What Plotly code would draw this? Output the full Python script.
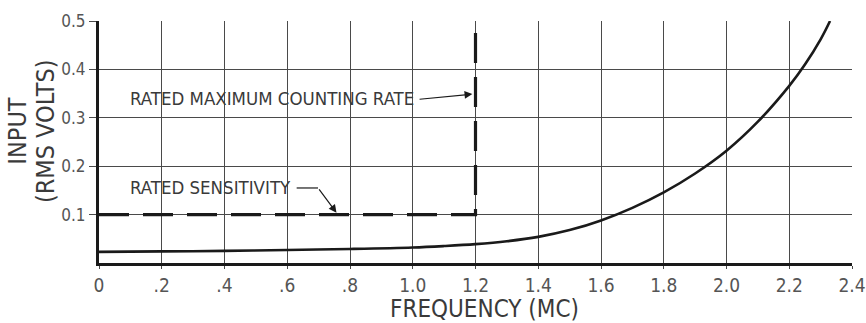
import plotly.graph_objects as go

freq = [0, 0.2, 0.4, 0.6, 0.8, 1.0, 1.1, 1.2, 1.3, 1.4, 1.5, 1.6, 1.7, 1.8, 1.9, 2.0, 2.1, 2.2, 2.25, 2.3, 2.33]
input_v = [0.023, 0.024, 0.025, 0.027, 0.029, 0.032, 0.035, 0.039, 0.045, 0.054, 0.068, 0.088, 0.114, 0.146, 0.185, 0.232, 0.292, 0.366, 0.41, 0.462, 0.5]

rated_x = [0, 1.2, 1.2]
rated_y = [0.1, 0.1, 0.5]

x_ticks = [0, 0.2, 0.4, 0.6, 0.8, 1.0, 1.2, 1.4, 1.6, 1.8, 2.0, 2.2, 2.4]
x_labels = ["0", ".2", ".4", ".6", ".8", "1.0", "1.2", "1.4", "1.6", "1.8", "2.0", "2.2", "2.4"]
y_ticks = [0.1, 0.2, 0.3, 0.4, 0.5]
y_labels = ["0.1", "0.2", "0.3", "0.4", "0.5"]

FONT = "DejaVu Sans Condensed, Liberation Sans Narrow, sans-serif"
INK = "#1a1a1a"
TXT = "#3a3a3a"

fig = go.Figure()
fig.add_trace(go.Scatter(x=rated_x, y=rated_y, mode="lines",
                         line=dict(color=INK, width=3.2, dash="30px,14px"),
                         hoverinfo="skip", showlegend=False))
fig.add_trace(go.Scatter(x=freq, y=input_v, mode="lines", line_shape="spline",
                         line=dict(color=INK, width=2.6), showlegend=False))

# leader line for rated sensitivity
fig.add_shape(type="line", x0=0.63, y0=0.155, x1=0.698, y1=0.155,
              line=dict(color=INK, width=1.2))

fig.add_annotation(x=0.092, y=0.155, text="RATED SENSITIVITY", showarrow=False,
                   xanchor="left", yanchor="middle",
                   font=dict(family=FONT, size=18.5, color=TXT))
fig.add_annotation(x=0.757, y=0.104, ax=0.698, ay=0.155, axref="x", ayref="y",
                   text="", showarrow=True, arrowhead=2, arrowsize=1.3, arrowwidth=1.2,
                   arrowcolor=INK)
fig.add_annotation(x=0.092, y=0.34, text="RATED MAXIMUM COUNTING RATE", showarrow=False,
                   xanchor="left", yanchor="middle",
                   font=dict(family=FONT, size=18.5, color=TXT))
fig.add_annotation(x=1.19, y=0.349, ax=1.017, ay=0.338, axref="x", ayref="y",
                   text="", showarrow=True, arrowhead=2, arrowsize=1.3, arrowwidth=1.2,
                   arrowcolor=INK)

# axis titles
fig.add_annotation(xref="paper", yref="paper", x=-0.1082, y=0.545, text="INPUT",
                   textangle=-90, showarrow=False, xanchor="center", yanchor="middle",
                   font=dict(family=FONT, size=25, color=TXT))
fig.add_annotation(xref="paper", yref="paper", x=-0.0717, y=0.545, text="(RMS VOLTS)",
                   textangle=-90, showarrow=False, xanchor="center", yanchor="middle",
                   font=dict(family=FONT, size=25, color=TXT))
fig.add_annotation(xref="paper", yref="paper", x=0.5126, y=-0.192, text="FREQUENCY (MC)",
                   showarrow=False, xanchor="center", yanchor="middle",
                   font=dict(family=FONT, size=24, color=TXT))

fig.update_xaxes(range=[0, 2.4], tickvals=x_ticks, ticktext=x_labels,
                 showgrid=True, gridcolor="#4a4a4a", gridwidth=1,
                 showline=True, linecolor=INK, linewidth=3,
                 ticks="outside", ticklen=3, tickcolor="#4a4a4a", tickwidth=1,
                 zeroline=False, automargin=False,
                 tickfont=dict(family=FONT, size=19, color="#555"))
fig.update_yaxes(range=[0, 0.5], tickvals=y_ticks, ticktext=y_labels,
                 showgrid=True, gridcolor="#4a4a4a", gridwidth=1,
                 showline=True, linecolor=INK, linewidth=3,
                 ticks="outside", ticklen=7, tickcolor="#4a4a4a", tickwidth=1,
                 zeroline=False, automargin=False,
                 tickfont=dict(family=FONT, size=17, color="#555"))

fig.update_layout(width=866, height=323, margin=dict(l=99, r=14, t=21, b=60),
                  plot_bgcolor="white", paper_bgcolor="white")

fig.write_html("out.html", config={"displayModeBar": False},
               post_script="document.body.style.margin='0';document.body.style.overflow='hidden';")
